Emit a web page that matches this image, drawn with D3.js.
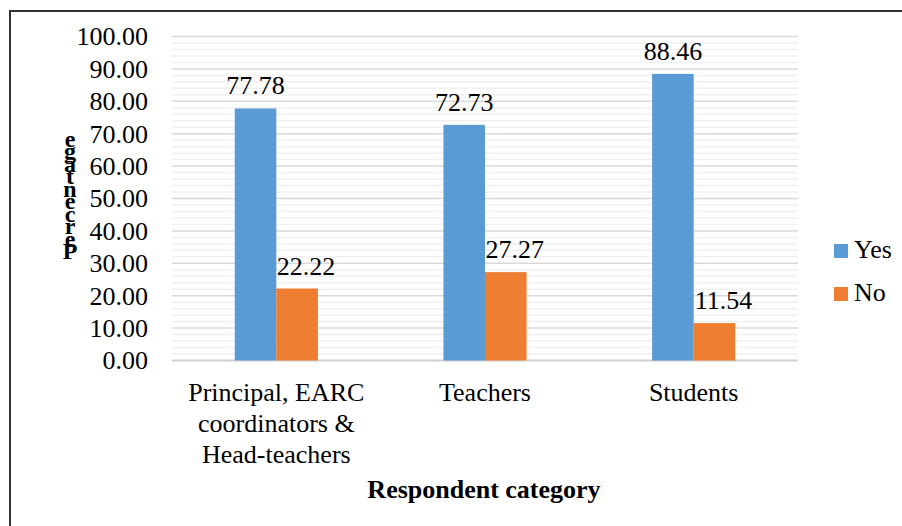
<!DOCTYPE html>
<html>
<head>
<meta charset="utf-8">
<title>Respondent category</title>
<script src="https://cdn.jsdelivr.net/npm/d3@7"></script>
<style>
  body { margin: 0; background: #fff; }
  svg text { font-family: "Liberation Serif", "Times New Roman", "DejaVu Serif", serif; fill: #000; }
</style>
</head>
<body>
<svg id="chart" width="902" height="526"></svg>
<script>
// data
const categories = ['Principal, EARC coordinators & Head-teachers', 'Teachers', 'Students'];
const categoryLines = [['Principal, EARC', 'coordinators &', 'Head-teachers'], ['Teachers'], ['Students']];
const series = ['Yes', 'No'];
const yesValues = [77.78, 72.73, 88.46];
const noValues = [22.22, 27.27, 11.54];
const colors = ['#5b9bd5', '#ed7d31'];
const yTicks = [0, 10, 20, 30, 40, 50, 60, 70, 80, 90, 100];
const yMinorTicks = d3.range(0, 101, 2);
const xTitle = 'Respondent category';
const yTitle = 'Percentage';

const serif = '"Liberation Serif", "Times New Roman", serif';
const svg = d3.select('#chart');
const width = +svg.attr('width');
const height = +svg.attr('height');
const plot = {left: 172, right: 798, top: 36.5, bottom: 360.5};

// outer frame (only left & top visible)
svg.append('path')
  .attr('d', `M10,${height} V11 H${width}`)
  .attr('fill', 'none')
  .attr('stroke', '#333')
  .attr('stroke-width', 2);

const x = d3.scaleBand().domain(categories).range([plot.left, plot.right]).padding(0);
const xSub = d3.scaleBand().domain(series).range([0, x.bandwidth()]).paddingInner(0).paddingOuter(1.51);
const y = d3.scaleLinear().domain([0, 100]).range([plot.bottom, plot.top]);

// minor grid
svg.append('g').selectAll('line')
  .data(yMinorTicks.filter(d => d % 10 !== 0))
  .join('line')
  .attr('x1', plot.left).attr('x2', plot.right)
  .attr('y1', d => y(d)).attr('y2', d => y(d))
  .attr('stroke', '#f0f0f0').attr('stroke-width', 1.5);

// major grid
svg.append('g').selectAll('line')
  .data(yTicks)
  .join('line')
  .attr('x1', plot.left).attr('x2', plot.right)
  .attr('y1', d => y(d)).attr('y2', d => y(d))
  .attr('stroke', d => d === 0 ? '#d0d0d0' : '#d9d9d9').attr('stroke-width', d => d === 0 ? 2 : 1.5);

// y axis labels
const yAxis = d3.axisLeft(y).tickValues(yTicks).tickFormat(d3.format('.2f')).tickSize(0).tickPadding(24);
const ya = svg.append('g').attr('transform', `translate(${plot.left},0)`).call(yAxis)
  .attr('font-family', serif).attr('font-size', 26);
ya.select('.domain').remove();
ya.selectAll('text').attr('dy', '0.32em').attr('fill', '#000');

// bars
const rows = categories.map((c, i) => ({cat: c, values: [yesValues[i], noValues[i]]}));
const groups = svg.append('g').selectAll('g')
  .data(rows)
  .join('g')
  .attr('transform', d => `translate(${x(d.cat)},0)`);

groups.selectAll('rect')
  .data(d => d.values.map((v, j) => ({s: series[j], v: v, j: j})))
  .join('rect')
  .attr('x', d => xSub(d.s))
  .attr('width', xSub.bandwidth())
  .attr('y', d => y(d.v))
  .attr('height', d => y(0) - y(d.v))
  .attr('fill', d => colors[d.j]);

// data labels
groups.selectAll('text.val')
  .data(d => d.values.map((v, j) => ({s: series[j], v: v, j: j})))
  .join('text')
  .attr('class', 'val')
  .attr('x', d => xSub(d.s) + xSub.bandwidth() / 2 + (d.j === 1 ? 9 : 0))
  .attr('y', d => y(d.v) - 14)
  .attr('text-anchor', 'middle')
  .attr('font-size', 26)
  .text(d => d3.format('.2f')(d.v));

// category labels
const catText = svg.append('g').selectAll('text')
  .data(categories)
  .join('text')
  .attr('x', d => x(d) + x.bandwidth() / 2)
  .attr('y', 401)
  .attr('text-anchor', 'middle')
  .attr('font-size', 26);
catText.selectAll('tspan')
  .data((d, i) => categoryLines[i])
  .join('tspan')
  .attr('x', function() { return this.parentNode.getAttribute('x'); })
  .attr('dy', (d, i) => i === 0 ? 0 : 31)
  .text(d => d);

// x title
svg.append('text')
  .attr('x', (plot.left + plot.right) / 2 - 1)
  .attr('y', 498)
  .attr('text-anchor', 'middle')
  .attr('font-size', 26)
  .attr('font-weight', 'bold')
  .text(xTitle);

// y title: letters stacked upright, bottom to top (as in the original)
const yt = svg.append('text')
  .attr('font-size', 24)
  .attr('font-weight', 'bold')
  .attr('text-anchor', 'middle');
yt.selectAll('tspan')
  .data(yTitle.split(''))
  .join('tspan')
  .attr('x', 70)
  .attr('y', (d, i) => 259 - i * 12.5)
  .text(d => d);

// legend
const legend = svg.append('g').selectAll('g')
  .data(series)
  .join('g')
  .attr('transform', (d, i) => `translate(834,${244 + i * 43})`);
legend.append('rect')
  .attr('width', 14).attr('height', 14)
  .attr('fill', (d, i) => colors[i]);
legend.append('text')
  .attr('x', 20).attr('y', 14)
  .attr('font-size', 26)
  .text(d => d);
</script>
</body>
</html>
